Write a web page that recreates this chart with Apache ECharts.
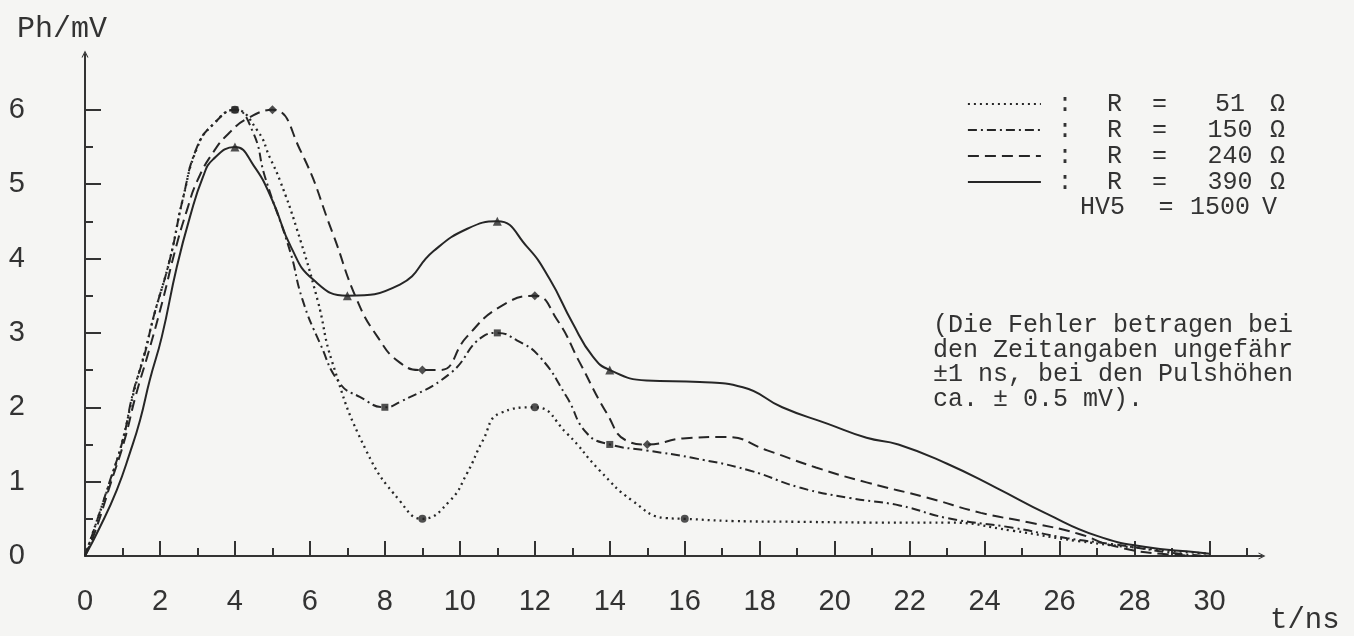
<!DOCTYPE html>
<html>
<head>
    <meta charset="utf-8">
    <title>Pulsform am Vorverstärkereingang</title>
    <script src="https://cdn.jsdelivr.net/npm/echarts@6.0.0/dist/echarts.min.js"></script>
    <style>
        html, body {
            margin: 0;
            padding: 0;
            background: #f5f5f3;
        }

        #chart {
            width: 1354px;
            height: 636px;
        }
    </style>
</head>
<body>
<div id="chart"></div>
<script>
    var resistances = ['51', '150', '240', '390'];

    var r51 = [[0, 0], [0.2, 0.3], [0.67, 1.0], [1.0, 1.55], [1.3, 2.2], [1.6, 2.75], [1.85, 3.25], [2.27, 4.0],
        [2.61, 4.8], [3.0, 5.5], [3.41, 5.8], [4, 6], [4.6, 5.72], [4.93, 5.36], [5.2, 5.05], [5.65, 4.4],
        [6.2, 3.45], [6.6, 2.6], [7.5, 1.42], [8.4, 0.74], [9, 0.5], [9.73, 0.74], [10.19, 1.11], [10.61, 1.55],
        [11.07, 1.92], [12, 2.0], [12.85, 1.65], [13.73, 1.15], [14.61, 0.74], [15.5, 0.51], [16, 0.5],
        [17.3, 0.47], [19, 0.46], [21.2, 0.45], [23, 0.45], [24.75, 0.34], [26.5, 0.2], [28.3, 0.1], [30, 0.03]];

    var r150 = [[0, 0], [0.21, 0.31], [0.67, 1.02], [1.01, 1.56], [1.28, 2.19], [1.6, 2.73], [1.81, 3.18],
        [2.27, 4.0], [2.61, 4.8], [2.99, 5.5], [3.41, 5.8], [4, 6], [4.48, 5.7], [4.8, 5.1], [5.47, 4.1],
        [5.8, 3.45], [6.27, 2.86], [6.8, 2.32], [7.33, 2.14], [8, 2.0], [8.4, 2.07], [9.73, 2.45], [10.61, 2.95],
        [11, 3.0], [11.52, 2.9], [12.13, 2.68], [12.85, 2.14], [13.39, 1.65], [14, 1.5], [14.98, 1.42],
        [16.2, 1.32], [17.73, 1.15], [19.07, 0.92], [20.4, 0.78], [21.73, 0.68], [23, 0.51], [24.75, 0.38],
        [26.2, 0.24], [27.4, 0.16], [29.2, 0.03], [30, 0]];

    var r240 = [[0, 0], [0.25, 0.3], [0.7, 1.0], [1.05, 1.55], [1.35, 2.15], [1.7, 2.75], [2.08, 3.45],
        [2.4, 4.1], [2.72, 4.65], [3.0, 5.05], [3.45, 5.45], [3.87, 5.7], [4.32, 5.88], [5, 6], [5.73, 5.47],
        [6.6, 4.35], [7.25, 3.45], [7.8, 2.95], [8.4, 2.6], [9, 2.5], [9.47, 2.5], [10.19, 2.95], [11.07, 3.35],
        [12, 3.5], [12.59, 3.18], [13.2, 2.6], [13.92, 1.92], [14.45, 1.55], [15, 1.5], [15.95, 1.58],
        [17.1, 1.6], [18.2, 1.42], [19.5, 1.19], [20.85, 0.99], [22.5, 0.78], [23.9, 0.58], [25.2, 0.45],
        [26.5, 0.3], [27.4, 0.14], [28.7, 0.03], [30, 0]];

    var r390 = [[0, 0], [0.4, 0.39], [0.85, 0.89], [1.2, 1.39], [1.47, 1.83], [1.73, 2.37], [2.05, 2.95],
        [2.45, 3.89], [2.8, 4.56], [3.15, 5.1], [3.41, 5.33], [4, 5.5], [4.5, 5.25], [5.0, 4.78], [5.5, 4.15],
        [6.08, 3.72], [7, 3.5], [8.4, 3.65], [9.3, 4.1], [10.2, 4.4], [11, 4.5], [11.79, 4.16], [12.4, 3.72],
        [13.0, 3.14], [13.55, 2.68], [14, 2.5], [14.98, 2.36], [16.4, 2.34], [17.55, 2.27], [18.6, 2.0],
        [19.8, 1.78], [20.85, 1.59], [21.7, 1.5], [23, 1.24], [24.3, 0.92], [25.65, 0.57], [27, 0.27],
        [28.3, 0.12], [29.65, 0.05], [30, 0.03]];

    // Messpunkte (Marker)
    var r51Marks = [[4, 6], [9, 0.5], [12, 2], [16, 0.5]];
    var r150Marks = [[4, 6], [8, 2], [11, 3], [14, 1.5]];
    var r240Marks = [[5, 6], [9, 2.5], [12, 3.5], [15, 1.5]];
    var r390Marks = [[4, 5.5], [7, 3.5], [11, 4.5], [14, 2.5]];

    // Achsen-Ticks
    var xMajor = [0, 2, 4, 6, 8, 10, 12, 14, 16, 18, 20, 22, 24, 26, 28, 30];
    var xMinor = [1, 3, 5, 7, 9, 11, 13, 15, 17, 19, 21, 23, 25, 27, 29, 31];
    var yMajor = [0, 1, 2, 3, 4, 5, 6];
    var yMinor = [0.5, 1.5, 2.5, 3.5, 4.5, 5.5];

    var ink = '#262626';
    var curves = [r51, r150, r240, r390];
    var marks = [r51Marks, r150Marks, r240Marks, r390Marks];
    var dashes = [[2, 4], [9, 4, 2, 4], [11, 6], 'solid'];
    var symbols = ['circle', 'rect', 'diamond', 'triangle'];
    var symbolSizes = [8, 7, 9, 9];

    var openArrow = 'path://M0,10 L5,0 L10,10 L8.4,10 L5,3.2 L1.6,10 Z';

    var series = [];
    for (var i = 0; i < curves.length; i++) {
        series.push({
            name: resistances[i],
            type: 'line',
            xAxisIndex: 0,
            yAxisIndex: 0,
            data: curves[i],
            smooth: 0.5,
            symbol: 'none',
            lineStyle: {color: ink, width: i === 0 ? 2.3 : 2, type: dashes[i]},
            itemStyle: {color: ink},
            z: 3
        });
    }
    for (var j = 0; j < marks.length; j++) {
        series.push({
            name: resistances[j] + ' Punkte',
            type: 'scatter',
            xAxisIndex: 0,
            yAxisIndex: 0,
            data: marks[j],
            symbol: symbols[j],
            symbolSize: symbolSizes[j],
            itemStyle: {color: ink},
            z: 4
        });
    }

    var labelFont = '"Liberation Sans", Arial, sans-serif';
    var monoFont = '"Liberation Mono", "DejaVu Sans Mono", monospace';

    var chart = echarts.init(document.getElementById('chart'));

    var option = {
        backgroundColor: '#f5f5f3',
        animation: false,
        grid: {left: 85, right: 92, top: 54, bottom: 80},
        legend: {
            data: resistances,
            orient: 'vertical',
            left: 962,
            top: 86,
            itemWidth: 73,
            itemHeight: 14,
            itemGap: 0,
            selectedMode: false,
            itemStyle: {opacity: 0},
            lineStyle: {width: 1.8},
            formatter: function (name) {
                return '{c|:}{r|R  =}{v|' + name + '}{u|Ω}';
            },
            textStyle: {
                fontFamily: monoFont,
                fontSize: 25,
                color: '#333',
                lineHeight: 26,
                rich: {
                    c: {width: 38, align: 'center', fontFamily: monoFont, fontSize: 25, color: '#333'},
                    r: {width: 106, align: 'right', fontFamily: monoFont, fontSize: 25, color: '#333'},
                    v: {width: 80, align: 'right', fontFamily: monoFont, fontSize: 25, color: '#333'},
                    u: {padding: [0, 0, 0, 0], fontFamily: monoFont, fontSize: 25, color: '#333'}
                }
            }
        },
        graphic: [
            {
                type: 'text',
                left: 1080,
                top: 195,
                style: {
                    text: '{h|HV5}{e|=}{v|1500}{u|V}',
                    font: '25px ' + monoFont,
                    fill: '#333',
                    rich: {
                        h: {width: 72, align: 'left', fontFamily: monoFont, fontSize: 25, lineHeight: 26},
                        e: {width: 28, align: 'right', fontFamily: monoFont, fontSize: 25, lineHeight: 26},
                        v: {width: 80, align: 'right', fontFamily: monoFont, fontSize: 25, lineHeight: 26},
                        u: {padding: [0, 0, 0, 2], fontFamily: monoFont, fontSize: 25, lineHeight: 26}
                    }
                }
            },
            {
                type: 'text',
                left: 933,
                top: 313,
                style: {
                    text: '(Die Fehler betragen bei\nden Zeitangaben ungefähr\n±1 ns, bei den Pulshöhen\nca. ± 0.5 mV).',
                    font: '25px ' + monoFont,
                    lineHeight: 24.5,
                    fill: '#333'
                }
            }
        ],
        xAxis: [
            {
                type: 'value',
                min: 0,
                max: 31.4,
                position: 'bottom',
                name: 't/ns',
                nameLocation: 'end',
                nameGap: 8,
                nameTextStyle: {
                    fontFamily: monoFont, fontSize: 29, color: '#333',
                    align: 'left', verticalAlign: 'top', padding: [50, 0, 0, 0]
                },
                axisLine: {
                    show: true,
                    lineStyle: {color: '#333', width: 2},
                    symbol: ['none', openArrow],
                    symbolSize: [14, 7]
                },
                axisTick: {show: true, inside: true, length: 15, lineStyle: {color: '#333', width: 2}, customValues: xMajor},
                axisLabel: {
                    customValues: xMajor,
                    margin: 31,
                    fontFamily: labelFont,
                    fontSize: 29,
                    color: '#333'
                },
                splitLine: {show: false}
            },
            {
                type: 'value',
                min: 0,
                max: 31.4,
                position: 'bottom',
                axisLine: {show: false},
                axisTick: {show: true, inside: true, length: 8, lineStyle: {color: '#333', width: 2}, customValues: xMinor},
                axisLabel: {show: false},
                splitLine: {show: false}
            }
        ],
        yAxis: [
            {
                type: 'value',
                min: 0,
                max: 6.75,
                position: 'left',
                name: 'Ph/mV',
                nameLocation: 'end',
                nameGap: 10,
                nameTextStyle: {
                    fontFamily: monoFont, fontSize: 30, color: '#333',
                    align: 'center', padding: [0, 46, 0, 0]
                },
                axisLine: {
                    show: true,
                    lineStyle: {color: '#333', width: 2},
                    symbol: ['none', openArrow],
                    symbolSize: [12, 7]
                },
                axisTick: {show: true, inside: true, length: 16, lineStyle: {color: '#333', width: 2}, customValues: yMajor},
                axisLabel: {
                    customValues: yMajor,
                    margin: 60,
                    fontFamily: labelFont,
                    fontSize: 29,
                    color: '#333'
                },
                splitLine: {show: false}
            },
            {
                type: 'value',
                min: 0,
                max: 6.75,
                position: 'left',
                axisLine: {show: false},
                axisTick: {show: true, inside: true, length: 8, lineStyle: {color: '#333', width: 2}, customValues: yMinor},
                axisLabel: {show: false},
                splitLine: {show: false}
            }
        ],
        series: series
    };

    chart.setOption(option);
</script>
</body>
</html>
